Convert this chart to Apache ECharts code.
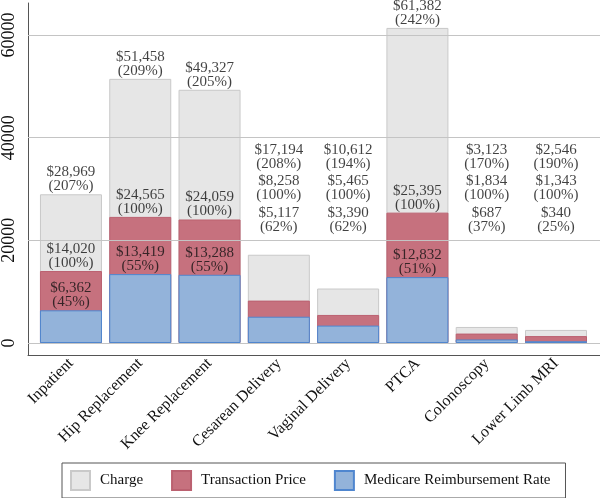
<!DOCTYPE html>
<html>
<head>
<meta charset="utf-8">
<script src="https://cdn.jsdelivr.net/npm/echarts@6/dist/echarts.min.js"></script>
<style>
  html, body { margin: 0; padding: 0; background: #fff; }
  #chart { width: 600px; height: 498px; }
</style>
</head>
<body>
<div id="chart"></div>
<script>
// data
const categories = ['Inpatient', 'Hip Replacement', 'Knee Replacement', 'Cesarean Delivery',
  'Vaginal Delivery', 'PTCA', 'Colonoscopy', 'Lower Limb MRI'];
const charge = [28969, 51458, 49327, 17194, 10612, 61382, 3123, 2546];
const transaction = [14020, 24565, 24059, 8258, 5465, 25395, 1834, 1343];
const medicare = [6362, 13419, 13288, 5117, 3390, 12832, 687, 340];
const yTicks = [0, 20000, 40000, 60000];

const FONT = '"Liberation Serif", "Times New Roman", serif';
// small bars get their labels stacked at fixed heights
const fixedAnchor = [33300, 27300, 21000];

const fmt = (v) => '$' + v.toLocaleString('en-US');
const pct = (v, base) => '(' + Math.round(v / base * 100) + '%)';

function labelData(values, k) {
  return values.map((v, i) => {
    const small = charge[i] < 20000;
    return {
      value: [i, small ? fixedAnchor[k] : v],
      text: fmt(v) + '\n' + pct(v, transaction[i])
    };
  });
}

function barSeries(name, values, fill, border) {
  return {
    name: name,
    type: 'bar',
    data: values.map((v, i) => [i, v]),
    barWidth: 62,
    barGap: '-100%',
    z: 2,
    itemStyle: { color: fill, borderColor: border, borderWidth: 1 }
  };
}

function labelSeries(values, k) {
  return {
    type: 'scatter',
    data: labelData(values, k),
    symbolSize: 0,
    silent: true,
    z: 5,
    label: {
      show: true,
      position: 'top',
      distance: 1,
      formatter: (p) => p.data.text,
      fontFamily: FONT,
      fontSize: 15,
      lineHeight: 14,
      color: '#111'
    }
  };
}

const chart = echarts.init(document.getElementById('chart'));
chart.setOption({
  animation: false,
  grid: { left: 28, right: 0, top: 3, height: 352 },
  xAxis: {
    type: 'value',
    min: -0.62,
    max: 7.635,
    splitLine: { show: false },
    axisTick: { show: false },
    axisLine: { show: true, onZero: false, lineStyle: { color: '#555', width: 1 } },
    axisLabel: {
      customValues: categories.map((c, i) => i),
      formatter: (v) => categories[v],
      rotate: 45,
      margin: 6,
      fontFamily: FONT,
      fontSize: 16,
      color: '#111'
    }
  },
  yAxis: {
    type: 'value',
    min: -2338,
    max: 66234,
    axisLine: { show: true, onZero: false, lineStyle: { color: '#555', width: 1 } },
    axisTick: { show: false, customValues: yTicks },
    splitLine: { show: false },
    axisLabel: {
      customValues: yTicks,
      formatter: (v) => String(v),
      rotate: 90,
      margin: 10,
      fontFamily: FONT,
      fontSize: 18,
      color: '#111'
    }
  },
  legend: {
    data: ['Charge', 'Transaction Price', 'Medicare Reimbursement Rate'],
    left: 62,
    top: 463,
    orient: 'horizontal',
    icon: 'rect',
    itemWidth: 19,
    itemHeight: 19,
    itemGap: 28,
    padding: [7, 15, 7, 8],
    borderColor: '#555',
    borderWidth: 1,
    textStyle: { fontFamily: FONT, fontSize: 15, color: '#111', padding: [0, 0, 0, 5] }
  },
  series: [
    {
      type: 'line',
      data: [],
      silent: true,
      z: 1,
      markLine: {
        silent: true,
        symbol: 'none',
        label: { show: false },
        lineStyle: { color: '#c4c4c4', width: 1, type: 'solid' },
        data: yTicks.map((t) => ({ yAxis: t }))
      }
    },
    barSeries('Charge', charge, '#e6e6e6', '#c9c9c9'),
    barSeries('Transaction Price', transaction, '#c6717e', '#bb6170'),
    barSeries('Medicare Reimbursement Rate', medicare, '#93b3da', '#4f86cf'),
    labelSeries(charge, 0),
    labelSeries(transaction, 1),
    labelSeries(medicare, 2)
  ]
});
</script>
</body>
</html>
